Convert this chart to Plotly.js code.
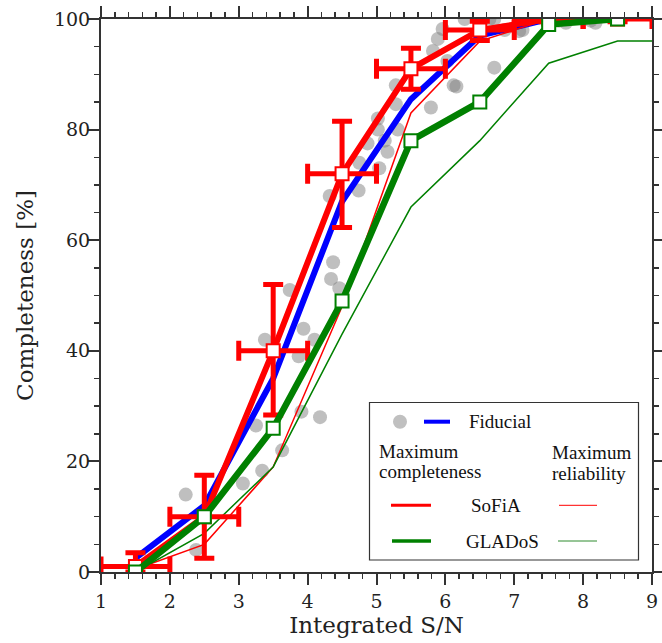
<!DOCTYPE html>
<html>
<head>
<meta charset="utf-8">
<script src="https://cdn.plot.ly/plotly-3.0.1.min.js"></script>
<style>html,body{margin:0;padding:0;background:#fff;}#chart{width:662px;height:643px;}</style>
</head>
<body>
<div id="chart"></div>
<script>
// ---- data ----
const snBins = [1.5, 2.5, 3.5, 4.5, 5.5, 6.5, 7.5, 8.5];
const snHalfWidth = [0.5, 0.5, 0.5, 0.5, 0.5, 0.5, 0.5, 0.5];
const sofiaCompleteness = [1, 10, 40, 72, 91, 98, 100, 100];
const sofiaErrUp = [2.5, 7.5, 12, 9.5, 3.7, 1.6, 0.5, 0.5];
const sofiaErrDown = [1, 7.5, 11.6, 9.7, 3.7, 1.9, 0.5, 0.5];
const gladosCompleteness = [0, 10, 26, 49, 78, 85, 99, 100];
const fiducial = [2.5, 12, 35, 67, 85.5, 97, 100, 100];
const sofiaReliability = [0.5, 5, 19, 48, 83, 96, 100, 100];
const gladosRelBins = [1.5, 2.5, 3.5, 4.5, 5.5, 6.5, 7.5, 8.5, 9.5];
const gladosReliability = [0, 7, 19, 43, 66, 78, 92, 96, 96];
const fiducialDotsX = [2.23, 2.38, 3.06, 3.34, 3.63, 3.25, 3.91, 4.18, 3.38, 3.87, 3.94, 4.10, 3.74, 4.37, 4.34, 4.46,
  4.32, 4.74, 4.75, 5.04, 5.16, 5.12, 5.31, 5.02, 4.87, 5.02, 5.28, 5.79, 5.28, 6.12, 6.16, 6.71, 5.82, 5.89, 6.03,
  5.96, 6.28, 6.64, 6.71, 6.86, 7.07, 7.12, 7.65, 7.75, 8.11, 8.18];
const fiducialDotsY = [14, 4, 16, 18.3, 22, 26.5, 29, 28, 42, 39, 44, 42, 51, 56, 53, 51.3,
  68, 69, 74, 73, 76, 78, 80, 80, 77.5, 82, 84.6, 84, 88, 88, 87.8, 91.2, 94.2, 96.4, 92.4,
  98.2, 100, 100, 100, 98, 97.8, 98, 99.7, 99.3, 99.7, 99.3];
const xTicks = [1, 2, 3, 4, 5, 6, 7, 8, 9];
const yTicks = [0, 20, 40, 60, 80, 100];

// ---- layout helpers (pixel -> paper) ----
const M = {l: 101, r: 10, t: 19, b: 71};
const W = 662, H = 643;
const PW = W - M.l - M.r, PH = H - M.t - M.b;
const px = v => (v - M.l) / PW;
const py = v => (H - M.b - v) / PH;

const RED = '#ff0000', BLUE = '#0000ff', GREEN = '#008000', GREY = 'rgba(128,128,128,0.5)';

const traces = [
  {x: fiducialDotsX, y: fiducialDotsY, mode: 'markers', type: 'scatter',
   marker: {size: 14, color: GREY}, hoverinfo: 'skip'},
  {x: snBins, y: fiducial, mode: 'lines', type: 'scatter', line: {color: BLUE, width: 6}},
  {x: snBins, y: sofiaReliability, mode: 'lines', type: 'scatter', line: {color: RED, width: 1.5}},
  {x: gladosRelBins, y: gladosReliability, mode: 'lines', type: 'scatter', line: {color: GREEN, width: 1.5}},
  {x: snBins, y: sofiaCompleteness, mode: 'lines+markers', type: 'scatter',
   line: {color: RED, width: 6},
   marker: {symbol: 'square', size: 13, color: '#fff', line: {color: RED, width: 2}},
   error_y: {type: 'data', symmetric: false, array: sofiaErrUp, arrayminus: sofiaErrDown, color: RED, thickness: 5, width: 10},
   error_x: {type: 'data', array: snHalfWidth, color: RED, thickness: 5, width: 10}},
  {x: snBins, y: gladosCompleteness, mode: 'lines+markers', type: 'scatter',
   line: {color: GREEN, width: 6.5},
   marker: {symbol: 'square', size: 13, color: '#fff', line: {color: GREEN, width: 2}}}
];

const fontSerif = '"DejaVu Serif", "Liberation Serif", serif';
const legFont = {family: '"Liberation Serif", "Times New Roman", serif', size: 19, color: '#111'};

const shapes = [
  {type: 'rect', xref: 'paper', yref: 'paper', x0: px(369.5), x1: px(638.5), y0: py(560), y1: py(402.5),
   line: {color: '#333', width: 1.2}, fillcolor: '#fff', layer: 'above'},
  {type: 'circle', xref: 'paper', yref: 'paper', x0: px(393), x1: px(407), y0: py(428.7), y1: py(414.7),
   fillcolor: '#c0c0c0', line: {width: 0}, layer: 'above'},
  {type: 'line', xref: 'paper', yref: 'paper', x0: px(424), x1: px(450), y0: py(421.7), y1: py(421.7),
   line: {color: BLUE, width: 4}, layer: 'above'},
  {type: 'line', xref: 'paper', yref: 'paper', x0: px(391), x1: px(431), y0: py(505.3), y1: py(505.3),
   line: {color: RED, width: 3}, layer: 'above'},
  {type: 'line', xref: 'paper', yref: 'paper', x0: px(559), x1: px(597), y0: py(505.3), y1: py(505.3),
   line: {color: RED, width: 1}, layer: 'above'},
  {type: 'line', xref: 'paper', yref: 'paper', x0: px(392), x1: px(431), y0: py(541), y1: py(541),
   line: {color: GREEN, width: 3.5}, layer: 'above'},
  {type: 'line', xref: 'paper', yref: 'paper', x0: px(558), x1: px(597), y0: py(541), y1: py(541),
   line: {color: '#2e8b2e', width: 1}, layer: 'above'}
];

function ann(text, x, y, anchor) {
  return {text: text, xref: 'paper', yref: 'paper', x: px(x), y: py(y), xanchor: anchor || 'left',
          yanchor: 'middle', showarrow: false, font: legFont};
}
const annotations = [
  ann('Fiducial', 467, 421.5),
  ann('Maximum', 377, 451),
  ann('completeness', 377, 471.7),
  ann('Maximum', 550, 452.3),
  ann('reliability', 550, 473.3),
  ann('SoFiA', 496, 505, 'center'),
  ann('GLADoS', 502, 541, 'center')
];

const axisCommon = {
  showgrid: false, zeroline: false, showline: true, linecolor: '#333', linewidth: 2,
  mirror: 'allticks', ticks: 'outside', ticklen: 11, tickwidth: 2, tickcolor: '#333',
  tickfont: {family: fontSerif, size: 19, color: '#222'}
};

const layout = {
  width: W, height: H, margin: M, showlegend: false,
  paper_bgcolor: '#fff', plot_bgcolor: '#fff',
  font: {family: fontSerif},
  xaxis: Object.assign({}, axisCommon, {
    range: [1, 9], tickvals: xTicks, ticktext: xTicks.map(String),
    minor: {dtick: 0.2, tick0: 1, ticks: 'outside', ticklen: 5, tickwidth: 1.5, tickcolor: '#333'},
    ticklabelstandoff: 0,
    title: {text: 'Integrated S/N', font: {family: fontSerif, size: 23, color: '#222'}, standoff: 5}
  }),
  yaxis: Object.assign({}, axisCommon, {
    range: [0, 100], tickvals: yTicks, ticktext: yTicks.map(String),
    minor: {dtick: 5, tick0: 0, ticks: 'outside', ticklen: 5, tickwidth: 1.5, tickcolor: '#333'},
    ticklabelstandoff: -6,
    title: {text: 'Completeness [%]', font: {family: fontSerif, size: 23, color: '#222'}, standoff: 14}
  }),
  shapes: shapes,
  annotations: annotations
};

Plotly.newPlot('chart', traces, layout, {displayModeBar: false, staticPlot: true});
</script>
</body>
</html>
